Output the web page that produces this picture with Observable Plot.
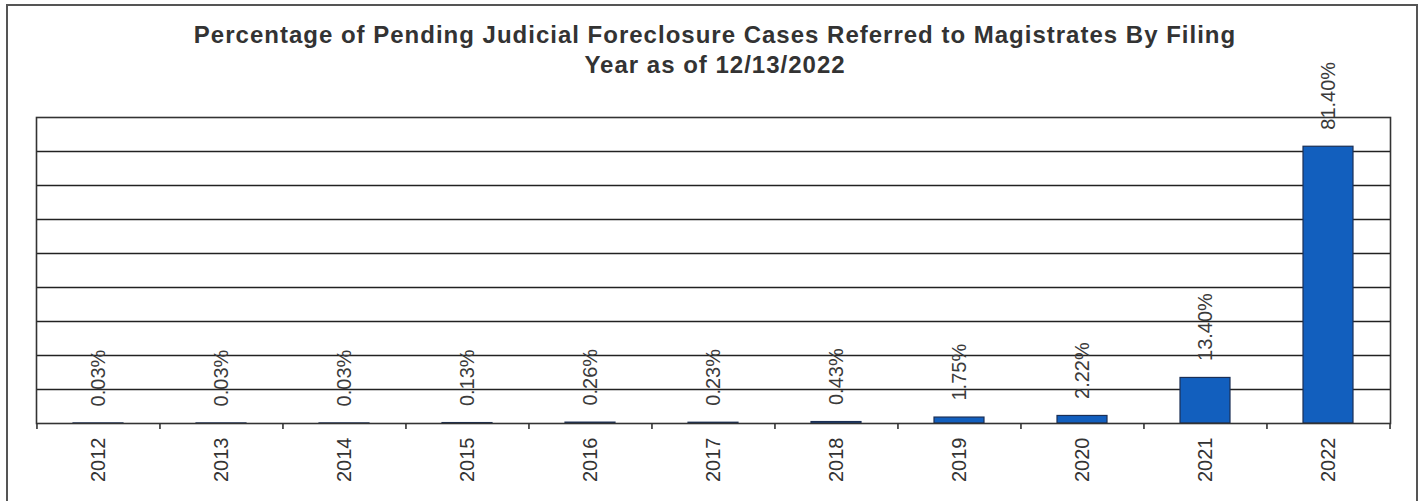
<!DOCTYPE html>
<html>
<head>
<meta charset="utf-8">
<script src="https://cdn.jsdelivr.net/npm/d3@7"></script>
<script src="https://cdn.jsdelivr.net/npm/@observablehq/plot@0.6"></script>
<style>
  html, body { margin: 0; padding: 0; background: #fff; overflow: hidden; }
  #wrap { position: relative; width: 1421px; height: 501px; overflow: hidden; font-family: "Liberation Sans", Arial, sans-serif; }
  #border { position: absolute; left: 6px; top: 4px; width: 1412px; height: 530px; box-sizing: border-box; border: 2.5px solid #555; }
  #title { position: absolute; left: 0; top: 20px; width: 1430px; text-align: center; font-weight: bold; font-size: 24px; line-height: 30px; color: #333; letter-spacing: 1px; }
  #chart { position: absolute; left: 0; top: 0; }
</style>
</head>
<body>
<div id="wrap">
  <div id="border"></div>
  <div id="title"></div>
  <div id="chart"></div>
</div>
<script>
const titleLines = [
  "Percentage of Pending Judicial Foreclosure Cases Referred to Magistrates By Filing",
  "Year as of 12/13/2022"
];
const years = ["2012", "2013", "2014", "2015", "2016", "2017", "2018", "2019", "2020", "2021", "2022"];
const percents = [0.03, 0.03, 0.03, 0.13, 0.26, 0.23, 0.43, 1.75, 2.22, 13.40, 81.40];
const gridValues = [10, 20, 30, 40, 50, 60, 70, 80];
const yDomain = [0, 90];

document.getElementById("title").innerHTML = titleLines.join("<br>");

const data = years.map((y, i) => ({year: y, value: percents[i]}));

const W = 1421, H = 501;
const mL = 36, mR = 31, mT = 117, mB = 78;
const step = (W - mL - mR) / years.length;
const frameH = H - mT - mB;

const plot = Plot.plot({
  width: W,
  height: H,
  marginLeft: mL,
  marginRight: mR,
  marginTop: mT,
  marginBottom: mB,
  style: {fontFamily: "'Liberation Sans', Arial, sans-serif", fontSize: "20px", color: "#333", background: "transparent"},
  x: {domain: years, paddingInner: 0.59, paddingOuter: 0.295, label: null},
  y: {domain: yDomain, axis: null},
  marks: [
    Plot.ruleY(gridValues, {stroke: "#222", strokeWidth: 1.6}),
    Plot.barY(data, {x: "year", y: "value", fill: "#125fbe", stroke: "#1b2f55", strokeWidth: 1.2}),
    Plot.frame({stroke: "#333", strokeWidth: 1.6}),
    Plot.ruleX(years, {x: d => d, dx: -step / 2, insetTop: frameH, insetBottom: -6, stroke: "#333", strokeWidth: 1.6}),
    Plot.ruleX(years.slice(-1), {x: d => d, dx: step / 2, insetTop: frameH, insetBottom: -6, stroke: "#333", strokeWidth: 1.6}),
    Plot.text(data, {x: "year", y: "value", text: d => d3.format(".2f")(d.value) + "%", rotate: -90, textAnchor: "start", dy: -17, fontSize: 20, fill: "#3a3a3a"}),
    Plot.axisX({tickSize: 0, tickRotate: -90, tickPadding: 14, fontSize: 20, label: null, fill: "#333"})
  ]
});
document.getElementById("chart").appendChild(plot);
</script>
</body>
</html>
